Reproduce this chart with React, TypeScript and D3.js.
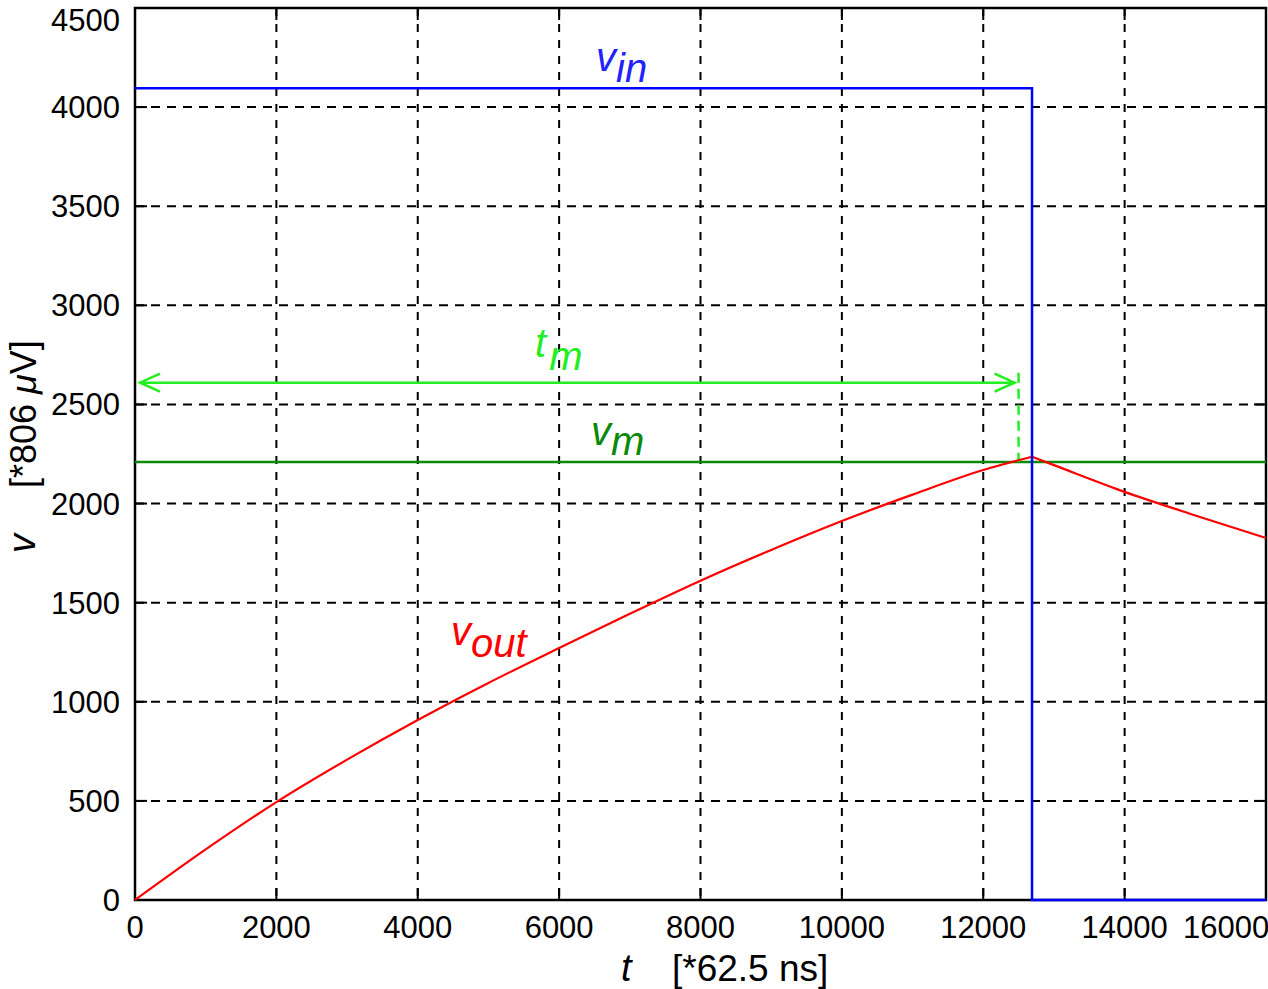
import React from "react";
import * as d3 from "d3";

const xTicks = [0, 2000, 4000, 6000, 8000, 10000, 12000, 14000, 16000];
const yTicks = [0, 500, 1000, 1500, 2000, 2500, 3000, 3500, 4000, 4500];

const vinT = [0, 12690, 12690, 16000];
const vinV = [4095, 4095, 0, 0];

const voutRiseT = [0, 1000, 2000, 3000, 4000, 5000, 6000, 7000, 8000, 9000, 10000, 11000, 12000, 12690];
const voutRiseV = [0, 255, 494, 708, 908, 1095, 1271, 1444, 1611, 1766, 1912, 2045, 2169, 2236];
const voutFallT = [12690, 13000, 14000, 15000, 16000];
const voutFallV = [2236, 2194, 2059, 1940, 1826];

const vmLevel = 2210;
const tmLevel = 2610;
const tmStart = 0;
const tmEnd = 12500;

const W = 1268;
const H = 989;
const L = 135, R = 1266, T = 8, B = 900;

export default function App() {
  const x = d3.scaleLinear().domain([0, 16000]).range([L, R]);
  const y = d3.scaleLinear().domain([0, 4500]).range([B, T]);
  const font = "'Liberation Sans', Arial, Helvetica, sans-serif";

  const vinLine = d3.line<number>().x((_, i) => x(vinT[i])).y((d) => y(d))(vinV) || "";
  const riseLine = d3.line<number>().curve(d3.curveMonotoneX).x((_, i) => x(voutRiseT[i])).y((d) => y(d))(voutRiseV) || "";
  const fallLine = d3.line<number>().curve(d3.curveMonotoneX).x((_, i) => x(voutFallT[i])).y((d) => y(d))(voutFallV) || "";

  const tmY = y(tmLevel);
  const ax0 = x(tmStart) + 5;
  const ax1 = x(tmEnd) - 4;
  const tick = 12;

  const xLabelPos = (t: number) => (t === 16000 ? { x: 1183, anchor: "start" } : { x: x(t), anchor: "middle" });
  const yLabelY = (t: number) => (t === 4500 ? 31 : y(t) + 11);

  return (
    <svg width={W} height={H} style={{ position: "fixed", left: 0, top: 0, background: "#fff" }} fontFamily={font}>
      <rect x={0} y={0} width={W} height={H} fill="#fff" />
      {/* grid */}
      {xTicks.filter((t) => t > 0 && t < 16000).map((t) => (
        <line key={"gx" + t} x1={x(t)} x2={x(t)} y1={T} y2={B} stroke="#000" strokeWidth={2} strokeDasharray="8,8" />
      ))}
      {yTicks.filter((t) => t > 0 && t < 4500).map((t) => (
        <line key={"gy" + t} x1={L} x2={R} y1={y(t)} y2={y(t)} stroke="#000" strokeWidth={2} strokeDasharray="9,7" />
      ))}
      {/* ticks */}
      {xTicks.map((t) => {
        const p = xLabelPos(t);
        return (
          <g key={"tx" + t}>
            <line x1={x(t)} x2={x(t)} y1={B} y2={B - tick} stroke="#000" strokeWidth={2} />
            <line x1={x(t)} x2={x(t)} y1={T} y2={T + tick} stroke="#000" strokeWidth={2} />
            <text x={p.x} y={938} fontSize={31} textAnchor={p.anchor} fill="#000">{t}</text>
          </g>
        );
      })}
      {yTicks.map((t) => (
        <g key={"ty" + t}>
          <line x1={L} x2={L + tick} y1={y(t)} y2={y(t)} stroke="#000" strokeWidth={2} />
          <line x1={R} x2={R - tick} y1={y(t)} y2={y(t)} stroke="#000" strokeWidth={2} />
          <text x={120} y={yLabelY(t)} fontSize={31} textAnchor="end" fill="#000">{t}</text>
        </g>
      ))}
      {/* axes box */}
      <rect x={L} y={T} width={R - L} height={B - T} fill="none" stroke="#000" strokeWidth={2.5} />

      {/* vm line */}
      <line x1={L} x2={R} y1={y(vmLevel)} y2={y(vmLevel)} stroke="#0a8a0a" strokeWidth={2.5} />
      {/* tm arrow */}
      <line x1={ax0} x2={ax1} y1={tmY} y2={tmY} stroke="#22ee22" strokeWidth={2.5} />
      <path d={`M${ax0 + 20},${tmY - 9} L${ax0},${tmY} L${ax0 + 20},${tmY + 9}`} fill="none" stroke="#22ee22" strokeWidth={2.5} />
      <path d={`M${ax1 - 20},${tmY - 9} L${ax1},${tmY} L${ax1 - 20},${tmY + 9}`} fill="none" stroke="#22ee22" strokeWidth={2.5} />
      <line x1={x(tmEnd)} x2={x(tmEnd)} y1={tmY - 10} y2={y(vmLevel)} stroke="#22ee22" strokeWidth={2.5} strokeDasharray="10,6" />

      {/* vout */}
      <path d={riseLine} fill="none" stroke="#ff0000" strokeWidth={2.2} />
      <path d={fallLine} fill="none" stroke="#ff0000" strokeWidth={2.2} />
      {/* vin */}
      <path d={vinLine} fill="none" stroke="#0000ff" strokeWidth={2.5} />

      {/* curve labels */}
      <text x={596} y={71} fontSize={40} fontStyle="italic" fill="#2222ff">v<tspan dy={11}>in</tspan></text>
      <text x={535} y={357} fontSize={40} fontStyle="italic" fill="#22ee22">t<tspan dx={3} dy={13}>m</tspan></text>
      <text x={591} y={445} fontSize={40} fontStyle="italic" fill="#0a8a0a">v<tspan dy={10}>m</tspan></text>
      <text x={451} y={645} fontSize={40} fontStyle="italic" fill="#ff0000">v<tspan dy={12}>out</tspan></text>

      {/* axis labels */}
      <text x={621} y={981} fontSize={38} fontStyle="italic" fill="#000">t</text>
      <text x={672} y={981} fontSize={37} fill="#000">[*62.5 ns]</text>
      <text transform="translate(35,553) rotate(-90)" fontSize={38} fontStyle="italic" fill="#000">v</text>
      <text transform="translate(36,488) rotate(-90)" fontSize={36} fill="#000">[*806 <tspan fontStyle="italic">μ</tspan>V]</text>
    </svg>
  );
}
